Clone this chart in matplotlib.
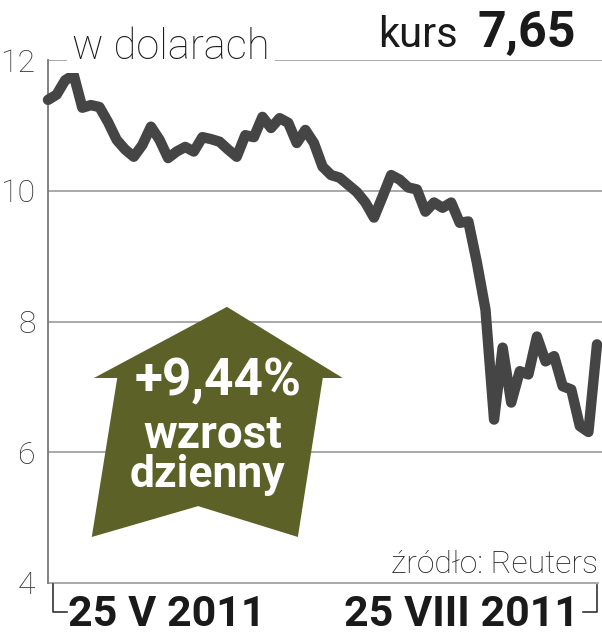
import numpy as np
import matplotlib
matplotlib.use('Agg')
import matplotlib.pyplot as plt
from matplotlib.patches import Polygon

# Dane: kurs akcji w dolarach (sesje od 25 V do 25 VIII 2011)
kurs = [11.39, 11.47, 11.69, 11.77, 11.27, 11.31, 11.28, 11.05, 10.78, 10.63,
        10.52, 10.70, 10.98, 10.78, 10.50, 10.60, 10.67, 10.60, 10.82, 10.79,
        10.75, 10.63, 10.52, 10.85, 10.82, 11.13, 10.96, 11.11, 11.04, 10.73,
        10.93, 10.73, 10.37, 10.24, 10.20, 10.09, 9.98, 9.82, 9.59, 9.91,
        10.24, 10.17, 10.05, 10.02, 9.68, 9.82, 9.74, 9.82, 9.51, 9.53,
        8.90, 8.18, 6.50, 7.60, 6.76, 7.24, 7.19, 7.77, 7.39, 7.47,
        7.01, 6.96, 6.40, 6.31, 7.65]
y_ticks = [4, 6, 8, 10, 12]
y_labels = ['4', '6', '8', '10', '12']
daty = ['25 V 2011', '25 VIII 2011']
ostatni_kurs = '7,65'
zmiana = '+9,44%'

KOLOR_LINII = '#454545'
KOLOR_SIATKI = '#a3a3a3'
KOLOR_STRZALKI = '#5b6127'
CZCIONKA = 'Roboto'

fig = plt.figure(figsize=(6.02, 6.40), dpi=100)
ax = fig.add_axes([48 / 602, 57 / 640, 554 / 602, 523 / 640])

x = np.arange(len(kurs))
ax.plot(x, kurs, color=KOLOR_LINII, lw=7.5, solid_joinstyle='round',
        solid_capstyle='round', zorder=5, clip_on=False)

ax.set_xlim(0, (len(kurs) - 1) * 554 / 549)
ax.set_ylim(4, 12)

# siatka pozioma
for v in y_ticks[1:]:
    ax.axhline(v, color=KOLOR_SIATKI, lw=1.3, zorder=1)
ax.plot([0, 0.993], [0, 0], transform=ax.transAxes, color=KOLOR_SIATKI,
        lw=1.3, clip_on=False)

for s in ['top', 'right', 'bottom']:
    ax.spines[s].set_visible(False)
ax.spines['left'].set_color('#777777')
ax.spines['left'].set_linewidth(1.3)

ax.set_xticks([])
ax.set_yticks(y_ticks)
ax.set_yticklabels(y_labels, fontsize=23, fontweight='light', family=CZCIONKA,
                   color='#333333')
ax.tick_params(axis='y', length=0, pad=9)

# nawiasy pod osią X
ax.plot([0.009, 0.009, 0.034], [-0.002, -0.055, -0.055], transform=ax.transAxes,
        color='#333333', lw=1.2, clip_on=False)
ax.plot([0.966, 0.991, 0.991], [-0.055, -0.055, -0.004], transform=ax.transAxes,
        color='#333333', lw=1.2, clip_on=False)

fig.text(167 / 602, 1 - 614 / 640, daty[0], ha='center', va='center',
         fontsize=31, fontweight='bold', family=CZCIONKA, color='#1a1a1a')
fig.text(461 / 602, 1 - 614 / 640, daty[1], ha='center', va='center',
         fontsize=31, fontweight='bold', family=CZCIONKA, color='#1a1a1a')

# napisy u góry
fig.text(72 / 602, 1 - 59 / 640, 'w dolarach', ha='left', va='baseline',
         fontsize=30, fontweight='light', family=CZCIONKA, color='#1a1a1a',
         bbox=dict(fc='white', ec='none', pad=4), zorder=3)
fig.text(458 / 602, 1 - 47 / 640, 'kurs', ha='right', va='baseline',
         fontsize=30, family=CZCIONKA, color='#1a1a1a')
fig.text(576 / 602, 1 - 47 / 640, ostatni_kurs, ha='right', va='baseline',
         fontsize=36, fontweight='bold', family=CZCIONKA, color='#1a1a1a')

fig.text(598 / 602, 1 - 573 / 640, 'źródło: Reuters', ha='right', va='baseline',
         fontsize=23, fontweight='light', family=CZCIONKA, color='#222222')

# strzałka ze wzrostem dziennym
strzalka = Polygon([(0.323, 0.528), (0.532, 0.392), (0.496, 0.392),
                    (0.451, 0.088), (0.271, 0.147), (0.079, 0.088),
                    (0.125, 0.392), (0.083, 0.392)],
                   closed=True, transform=ax.transAxes, fc=KOLOR_STRZALKI,
                   ec='none', zorder=4)
ax.add_patch(strzalka)
ax.text(0.307, 0.358, zmiana, transform=ax.transAxes, ha='center', va='baseline',
        fontsize=37, fontweight='bold', family=CZCIONKA, color='white', zorder=6)
ax.text(0.298, 0.258, 'wzrost', transform=ax.transAxes, ha='center', va='baseline',
        fontsize=33, fontweight='bold', family=CZCIONKA, color='white', zorder=6)
ax.text(0.287, 0.184, 'dzienny', transform=ax.transAxes, ha='center', va='baseline',
        fontsize=32, fontweight='bold', family=CZCIONKA, color='white', zorder=6)

plt.savefig('out.png', dpi=100)
